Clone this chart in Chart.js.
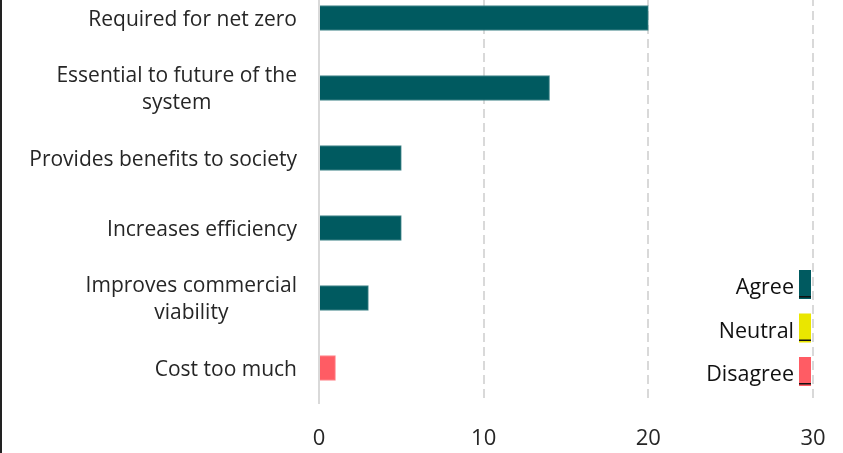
<!DOCTYPE html>
<html>
<head>
<meta charset="utf-8">
<script src="https://cdn.jsdelivr.net/npm/chart.js@4"></script>
<style>
  html, body { margin: 0; padding: 0; background: #fff; overflow: hidden; }
  #wrap { position: absolute; left: 0; top: -17px; width: 843px; height: 480px; }
  #edge { position: absolute; left: 0; top: 0; width: 2px; height: 453px; background: #222; }
</style>
</head>
<body>
<div id="wrap"><canvas id="barChart"></canvas></div>
<div id="edge"></div>
<script>
// categories (top to bottom)
const categories = [
  ['Required for net zero'],
  ['Essential to future of the', 'system'],
  ['Provides benefits to society'],
  ['Increases efficiency'],
  ['Improves commercial', 'viability'],
  ['Cost too much']
];
// responses per category (null = no bar)
const agree    = [20, 14, 5, 5, 3, null];
const neutral  = [null, null, null, null, null, null];
const disagree = [null, null, null, null, null, 1];
const xTicks   = [0, 10, 20, 30];

const fontFam = "'Open Sans', Lato, sans-serif";

// category labels: right edge aligned, lines centred in their block
const catLabels = {
  id: 'catLabels',
  afterDraw(chart) {
    const ctx = chart.ctx, y = chart.scales.y;
    ctx.save();
    ctx.font = '21px ' + fontFam;
    ctx.fillStyle = '#262626';
    ctx.textAlign = 'center';
    ctx.textBaseline = 'middle';
    categories.forEach((lines, i) => {
      const w = Math.max(...lines.map(l => ctx.measureText(l).width));
      const cx = 297 - w / 2;
      const cy = y.getPixelForTick(i) + 2;
      const lh = 27;
      lines.forEach((l, j) => {
        ctx.fillText(l, cx, cy + (j - (lines.length - 1) / 2) * lh);
      });
    });
    ctx.restore();
  }
};

// legend: text on the left, tall swatch on the right
const sideLegend = {
  id: 'sideLegend',
  afterDraw(chart) {
    const ctx = chart.ctx;
    ctx.save();
    ctx.font = '21.5px ' + fontFam;
    ctx.textAlign = 'right';
    ctx.textBaseline = 'middle';
    chart.data.datasets.forEach((ds, i) => {
      const top = 287 + i * 43.5;
      ctx.fillStyle = ds.backgroundColor;
      ctx.fillRect(799, top, 12, 29);
      ctx.fillStyle = '#111';
      ctx.fillRect(799, top + 26, 12, 1.5);
      ctx.fillText(ds.label, 794, top + 18);
    });
    ctx.restore();
  }
};

var myChart = new Chart(document.getElementById('barChart'), {
  type: 'bar',
  data: {
    labels: categories,
    datasets: [
      { label: 'Agree', data: agree, backgroundColor: '#005A60', borderColor: '#4d8c90', borderWidth: 1, barThickness: 25 },
      { label: 'Neutral', data: neutral, backgroundColor: '#EAE600', borderWidth: 0, barThickness: 25 },
      { label: 'Disagree', data: disagree, backgroundColor: '#FF5C64', borderColor: '#ff8a90', borderWidth: 1, barThickness: 25 }
    ]
  },
  options: {
    indexAxis: 'y',
    responsive: true,
    maintainAspectRatio: false,
    animation: false,
    layout: { padding: { top: 0, right: 30, bottom: 0, left: 0 } },
    plugins: {
      legend: { display: false },
      tooltip: { enabled: false }
    },
    scales: {
      x: {
        stacked: true,
        min: 0,
        max: 30,
        afterBuildTicks: (s) => { s.ticks = xTicks.map(v => ({ value: v })); },
        afterFit: (s) => { s.height = 60; s.paddingLeft = 0; s.paddingRight = 0; },
        grid: {
          color: '#d9d9d9',
          lineWidth: 2,
          drawTicks: false
        },
        border: { display: false, dash: [9, 5] },
        ticks: {
          padding: 23,
          color: '#262626',
          font: { family: fontFam, size: 22 }
        }
      },
      y: {
        stacked: true,
        afterFit: (s) => { s.width = 319; },
        grid: { display: false, drawTicks: false },
        border: { display: true, color: '#d9d9d9', width: 2 },
        ticks: { display: false }
      }
    }
  },
  plugins: [catLabels, sideLegend]
});
</script>
</body>
</html>
